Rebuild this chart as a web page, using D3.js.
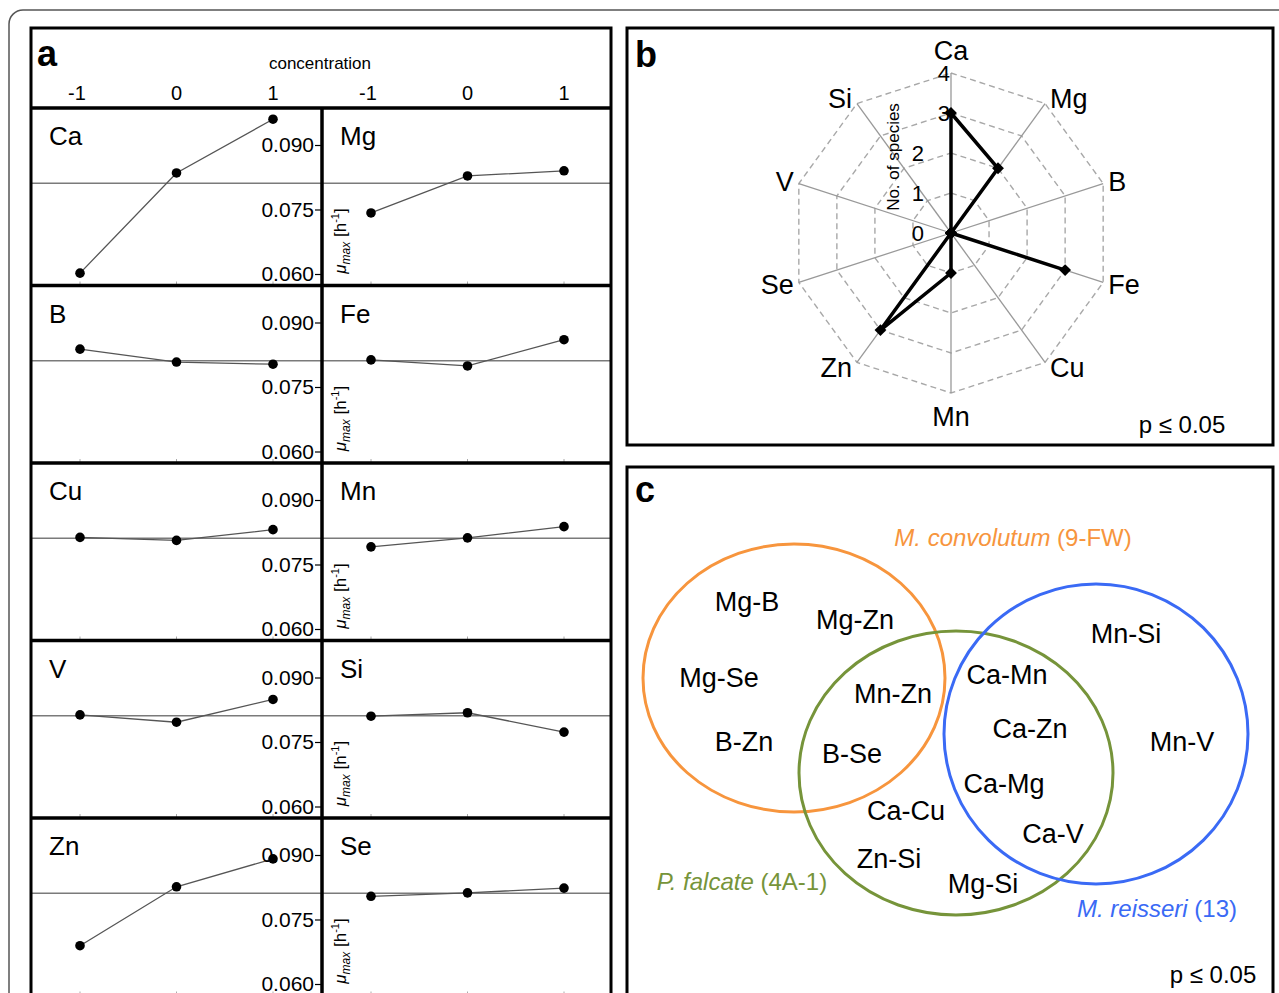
<!DOCTYPE html>
<html>
<head>
<meta charset="utf-8">
<script src="https://cdnjs.cloudflare.com/ajax/libs/d3/7.8.5/d3.min.js"></script>
<style>
body { margin: 0; background: #fff; }
svg { display: block; font-family: "Liberation Sans", Arial, Helvetica, sans-serif; }
</style>
</head>
<body>
<div id="container"></div>
<script>
// ---- panel a : mu_max vs concentration ----
const concentrations = [-1, 0, 1];
const muTicks = [0.060, 0.075, 0.090];
const muMean = 0.0811;
const leftElements = ["Ca", "B", "Cu", "V", "Zn"];
const rightElements = ["Mg", "Fe", "Mn", "Si", "Se"];
const muCa = [0.0602, 0.0835, 0.0960];
const muMg = [0.0742, 0.0828, 0.0840];
const muB  = [0.0838, 0.0808, 0.0803];
const muFe = [0.0813, 0.0799, 0.0860];
const muCu = [0.0813, 0.0806, 0.0831];
const muMn = [0.0791, 0.0812, 0.0838];
const muV  = [0.0813, 0.0796, 0.0849];
const muSi = [0.0810, 0.0818, 0.0773];
const muZn = [0.0689, 0.0826, 0.0891];
const muSe = [0.0804, 0.0812, 0.0823];
const muByElement = { Ca: muCa, Mg: muMg, B: muB, Fe: muFe, Cu: muCu, Mn: muMn, V: muV, Si: muSi, Zn: muZn, Se: muSe };

// ---- panel b : radar ----
const radarAxes = ["Ca", "Mg", "B", "Fe", "Cu", "Mn", "Zn", "Se", "V", "Si"];
const speciesCount = [3, 2, 0, 3, 0, 1, 3, 0, 0, 0];
const radarTicks = [0, 1, 2, 3, 4];

// ---- panel c : venn ----
const vennSpecies = ["M. convolutum", "P. falcate", "M. reisseri"];
const vennStrains = ["9-FW", "4A-1", "13"];
const onlyConvolutum = ["Mg-B", "Mg-Zn", "Mg-Se", "B-Zn"];
const convolutumFalcate = ["Mn-Zn", "B-Se"];
const onlyFalcate = ["Ca-Cu", "Zn-Si", "Mg-Si"];
const falcateReisseri = ["Ca-Mn", "Ca-Zn", "Ca-Mg", "Ca-V"];
const onlyReisseri = ["Mn-Si", "Mn-V"];

const W = 1279, H = 993;
const svg = d3.select("#container").append("svg")
    .attr("width", W)
    .attr("height", H);

// outer rounded border
svg.append("rect")
    .attr("x", 9).attr("y", 10)
    .attr("width", 1330).attr("height", 1100)
    .attr("rx", 14)
    .attr("fill", "none")
    .attr("stroke", "#555")
    .attr("stroke-width", 1.5);

/* ================= panel a ================= */
const aLeft = 31, aRight = 611, aTop = 28, aMid = 322, headBottom = 108, rowH = 177.5;
const pa = svg.append("g");

function colScale(x0) {
    return d3.scaleLinear().domain([-1, 1]).range([x0 + 49, x0 + 242]);
}

// header
pa.append("text").attr("x", 37).attr("y", 66)
    .attr("font-size", 36).attr("font-weight", "bold").text("a");
pa.append("text").attr("x", 320).attr("y", 69)
    .attr("text-anchor", "middle").attr("font-size", 17).text("concentration");
[aLeft, aMid].forEach(x0 => {
    const xs = colScale(x0);
    pa.selectAll(null).data(concentrations).enter().append("text")
        .attr("x", d => xs(d) - (d < 0 ? 3 : 0))
        .attr("y", 100)
        .attr("text-anchor", "middle")
        .attr("font-size", 20)
        .text(d => d);
});

const line = d3.line();

leftElements.forEach((el, i) => {
    const top = headBottom + i * rowH;
    const ys = d3.scaleLinear().domain([0.060, 0.090]).range([top + 166, top + 37]);

    [[el, aLeft, aMid], [rightElements[i], aMid, aRight]].forEach(([name, x0, x1], c) => {
        const xs = colScale(x0);
        const vals = muByElement[name];
        const g = pa.append("g");

        // mean reference line
        g.append("line")
            .attr("x1", x0).attr("x2", x1)
            .attr("y1", ys(muMean)).attr("y2", ys(muMean))
            .attr("stroke", "#7a7a7a").attr("stroke-width", 1.5);

        // small bottom ticks
        g.selectAll(null).data(concentrations).enter().append("line")
            .attr("x1", d => xs(d)).attr("x2", d => xs(d))
            .attr("y1", top + rowH - 4).attr("y2", top + rowH)
            .attr("stroke", "#aaa").attr("stroke-width", 1);

        g.append("path")
            .attr("d", line(vals.map((v, k) => [xs(concentrations[k]), ys(v)])))
            .attr("fill", "none")
            .attr("stroke", "#555")
            .attr("stroke-width", 1.3);

        g.selectAll(null).data(vals).enter().append("circle")
            .attr("cx", (d, k) => xs(concentrations[k]))
            .attr("cy", d => ys(d))
            .attr("r", 4.8)
            .attr("fill", "#000");

        g.append("text")
            .attr("x", x0 + 18).attr("y", top + 37)
            .attr("font-size", 26).text(name);

        if (c === 1) {
            // mu_max [h-1] label
            const t = g.append("text")
                .attr("transform", `translate(346, ${top + 133}) rotate(-90)`)
                .attr("text-anchor", "middle")
                .attr("font-size", 17);
            t.append("tspan").attr("font-style", "italic").text("\u03bc");
            t.append("tspan").attr("font-style", "italic").attr("font-size", 12).attr("dy", 4).text("max");
            t.append("tspan").attr("dy", -4).text(" [h");
            t.append("tspan").attr("font-size", 11).attr("dy", -7).text("-1");
            t.append("tspan").attr("dy", 7).text("]");
        }
    });

    // y axis on the divider
    const ax = pa.append("g")
        .attr("transform", `translate(${aMid - 1},0)`)
        .call(d3.axisLeft(ys).tickValues(muTicks).tickFormat(d3.format(".3f")).tickSize(6).tickPadding(1));
    ax.select(".domain").remove();
    ax.selectAll(".tick line").attr("stroke", "#000").attr("stroke-width", 1.2);
    ax.selectAll("text").attr("font-size", 21).attr("fill", "#000")
        .attr("font-family", "\"Liberation Sans\", Arial, sans-serif");
});

// frame of panel a
pa.append("rect")
    .attr("x", aLeft).attr("y", aTop)
    .attr("width", aRight - aLeft).attr("height", 1100)
    .attr("fill", "none").attr("stroke", "#000").attr("stroke-width", 3);
pa.selectAll(null).data(d3.range(leftElements.length)).enter().append("line")
    .attr("x1", aLeft).attr("x2", aRight)
    .attr("y1", i => headBottom + i * rowH).attr("y2", i => headBottom + i * rowH)
    .attr("stroke", "#000").attr("stroke-width", 3.5);
pa.append("line")
    .attr("x1", aMid).attr("x2", aMid)
    .attr("y1", headBottom).attr("y2", 1100)
    .attr("stroke", "#000").attr("stroke-width", 3.5);

/* ================= panel b ================= */
const pb = svg.append("g");
pb.append("rect")
    .attr("x", 627).attr("y", 28).attr("width", 646).attr("height", 417)
    .attr("fill", "none").attr("stroke", "#000").attr("stroke-width", 3);
pb.append("text").attr("x", 635).attr("y", 67)
    .attr("font-size", 36).attr("font-weight", "bold").text("b");

const cx = 951, cy = 233, R = 160;
const rScale = d3.scaleLinear().domain([0, 4]).range([0, R]);
const step = 2 * Math.PI / radarAxes.length;
const radar = pb.append("g").attr("transform", `translate(${cx},${cy})`);

const ring = d3.lineRadial()
    .angle((d, i) => i * step)
    .radius(d => rScale(d))
    .curve(d3.curveLinearClosed);

radar.selectAll(".grid").data(radarTicks.slice(1)).enter().append("path")
    .attr("d", v => ring(radarAxes.map(() => v)))
    .attr("fill", "none")
    .attr("stroke", "#a8a8a8")
    .attr("stroke-width", 1.4)
    .attr("stroke-dasharray", "6,4");

radar.selectAll(".spoke").data(radarAxes).enter().append("line")
    .attr("x1", 0).attr("y1", 0)
    .attr("x2", (d, i) => rScale(4) * Math.sin(i * step))
    .attr("y2", (d, i) => -rScale(4) * Math.cos(i * step))
    .attr("stroke", "#999").attr("stroke-width", 1.3);

// axis names sit just past the end of each spoke
radar.selectAll(".alab").data(radarAxes).enter().append("text")
    .each(function (d, i) {
        const s = Math.sin(i * step), c = Math.cos(i * step);
        const ex = rScale(4) * s, ey = -rScale(4) * c;
        const side = Math.abs(s) < 0.01 ? 0 : Math.sign(s);
        d3.select(this)
            .attr("x", ex + side * 5)
            .attr("y", side === 0 ? ey - c * 23 : ey - c * 6)
            .attr("text-anchor", side > 0 ? "start" : side < 0 ? "end" : "middle");
    })
    .attr("dy", "0.36em")
    .attr("font-size", 27)
    .text(d => d);

radar.selectAll(".tlab").data(radarTicks).enter().append("text")
    .attr("x", d => d >= 3 ? -1 : -27)
    .attr("y", d => -rScale(d))
    .attr("text-anchor", "end")
    .attr("dy", "0.36em")
    .attr("font-size", 22)
    .text(d => d);

radar.append("text")
    .attr("transform", `translate(-52, ${-rScale(1.9)}) rotate(-90)`)
    .attr("text-anchor", "middle")
    .attr("font-size", 17)
    .text("No. of species");

radar.append("path")
    .attr("d", ring(speciesCount))
    .attr("fill", "none")
    .attr("stroke", "#000")
    .attr("stroke-width", 3.5)
    .attr("stroke-linejoin", "miter");

radar.selectAll(".mark").data(speciesCount).enter().append("path")
    .attr("d", d3.symbol(d3.symbolSquare, 70))
    .attr("transform", (d, i) => `translate(${rScale(d) * Math.sin(i * step)},${-rScale(d) * Math.cos(i * step)}) rotate(45)`)
    .attr("fill", "#000");

pb.append("text").attr("x", 1182).attr("y", 433)
    .attr("text-anchor", "middle").attr("font-size", 24).text("p \u2264 0.05");

/* ================= panel c ================= */
const pc = svg.append("g");
pc.append("rect")
    .attr("x", 627).attr("y", 467).attr("width", 646).attr("height", 700)
    .attr("fill", "none").attr("stroke", "#000").attr("stroke-width", 3);
pc.append("text").attr("x", 635).attr("y", 502)
    .attr("font-size", 36).attr("font-weight", "bold").text("c");

const vennColors = ["#f7953d", "#76943a", "#3a6af5"];
const vennShapes = [
    { cx: 794, cy: 678, rx: 151, ry: 134 },
    { cx: 956, cy: 773, rx: 157, ry: 142 },
    { cx: 1096, cy: 734, rx: 152, ry: 150 }
];
const vennTitlePos = [[1013, 537], [742, 881], [1157, 908]];

pc.selectAll(".set").data(vennShapes).enter().append("ellipse")
    .attr("cx", d => d.cx).attr("cy", d => d.cy)
    .attr("rx", d => d.rx).attr("ry", d => d.ry)
    .attr("fill", "none")
    .attr("stroke", (d, i) => vennColors[i])
    .attr("stroke-width", 3);

vennSpecies.forEach((sp, i) => {
    const t = pc.append("text")
        .attr("x", vennTitlePos[i][0]).attr("y", vennTitlePos[i][1])
        .attr("text-anchor", "middle").attr("dy", "0.36em")
        .attr("font-size", 24)
        .attr("fill", vennColors[i]);
    t.append("tspan").attr("font-style", "italic").text(sp);
    t.append("tspan").text(` (${vennStrains[i]})`);
});

const vennLabelPos = {
    "Mg-B": [747, 601], "Mg-Zn": [855, 619], "Mg-Se": [719, 677], "B-Zn": [744, 741],
    "Mn-Zn": [893, 693], "B-Se": [852, 753],
    "Ca-Cu": [906, 810], "Zn-Si": [889, 858], "Mg-Si": [983, 883],
    "Ca-Mn": [1007, 674], "Ca-Zn": [1030, 728], "Ca-Mg": [1004, 783], "Ca-V": [1053, 833],
    "Mn-Si": [1126, 633], "Mn-V": [1182, 741]
};
const allPairs = [].concat(onlyConvolutum, convolutumFalcate, onlyFalcate, falcateReisseri, onlyReisseri);
pc.selectAll(".pair").data(allPairs).enter().append("text")
    .attr("x", d => vennLabelPos[d][0])
    .attr("y", d => vennLabelPos[d][1])
    .attr("text-anchor", "middle").attr("dy", "0.36em")
    .attr("font-size", 27)
    .text(d => d);

pc.append("text").attr("x", 1213).attr("y", 983)
    .attr("text-anchor", "middle").attr("font-size", 24).text("p \u2264 0.05");
</script>
</body>
</html>
